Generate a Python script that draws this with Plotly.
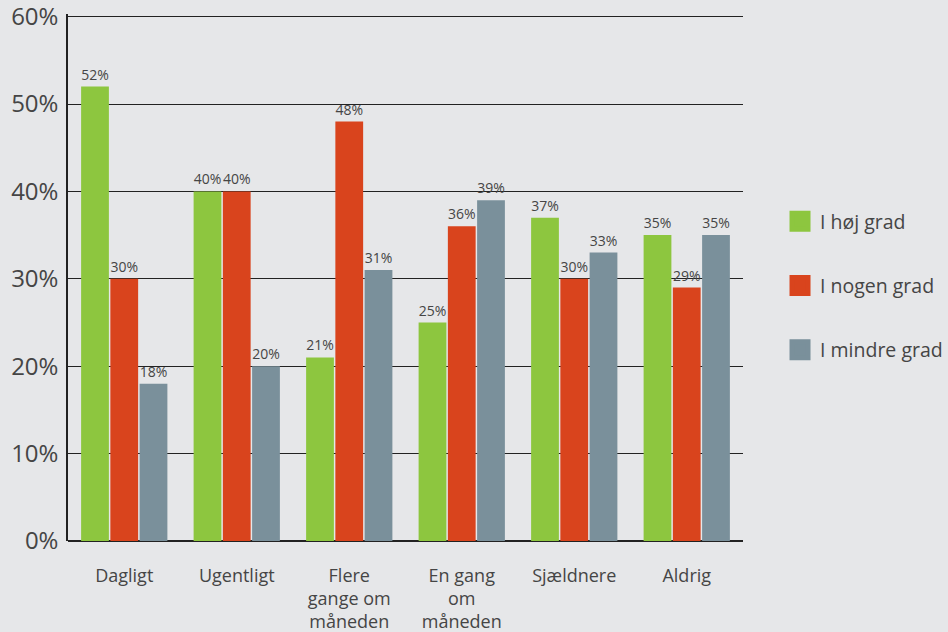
import plotly.graph_objects as go

categories = ["Dagligt", "Ugentligt", "Flere<br>gange om<br>måneden", "En gang<br>om<br>måneden", "Sjældnere", "Aldrig"]
series_names = ["I høj grad", "I nogen grad", "I mindre grad"]
hoj = [52, 40, 21, 25, 37, 35]
nogen = [30, 40, 48, 36, 30, 29]
mindre = [18, 20, 31, 39, 33, 35]
colors = ["#8dc63f", "#d9441d", "#7a909b"]
y_ticks = [0, 10, 20, 30, 40, 50, 60]
y_tick_labels = [f"{v}%" for v in y_ticks]

FONT = "Open Sans"
TXT = "#454545"

fig = go.Figure()
for name, vals, col in zip(series_names, [hoj, nogen, mindre], colors):
    fig.add_trace(go.Bar(
        x=categories, y=vals, name=name, marker=dict(color=col, line=dict(width=0)),
        text=[f"{v}%" for v in vals], textposition="outside",
        textfont=dict(family=FONT, size=14, color=TXT),
        constraintext="none",
        cliponaxis=False, showlegend=False,
    ))
# legend entries with larger squares
for i, (name, col) in enumerate(zip(series_names, colors)):
    fig.add_trace(go.Scatter(
        x=[None], y=[None], mode="markers", name=name, legendgroup=f"g{i}",
        marker=dict(symbol="square", size=16, color=col, line=dict(color=col, width=5)),
    ))

fig.update_layout(
    width=948, height=632,
    paper_bgcolor="#e6e7e9", plot_bgcolor="#e6e7e9",
    margin=dict(l=68, r=205, t=14, b=91),
    barmode="group", bargap=0.22, bargroupgap=0.05,
    font=dict(family=FONT, color=TXT),
    legend=dict(
        xref="container", yref="container",
        x=0.8228, xanchor="left", y=0.5475, yanchor="middle",
        font=dict(family=FONT, size=19.5, color=TXT),
        traceorder="grouped", tracegroupgap=36,
        bgcolor="rgba(0,0,0,0)",
    ),
    uniformtext=dict(mode=False),
)
fig.update_xaxes(
    showgrid=False, showline=False, zeroline=False, automargin=False,
    ticks="outside", ticklen=18, tickcolor="rgba(0,0,0,0)",
    tickfont=dict(family=FONT, size=18, color=TXT),
    ticklabeloverflow="allow",
    layer="below traces",
)
fig.update_yaxes(
    range=[0, 60.3], tickvals=y_ticks, ticktext=y_tick_labels, automargin=False,
    showgrid=True, gridcolor="#222222", gridwidth=1.3,
    zeroline=True, zerolinecolor="#222222", zerolinewidth=1.5,
    showline=True, linecolor="#222222", linewidth=1.5,
    ticks="outside", ticklen=3, tickcolor="rgba(0,0,0,0)",
    tickfont=dict(family=FONT, size=24, color=TXT),
    ticklabeloverflow="allow",
    layer="below traces",
)

fig.write_html(
    "out.html",
    config={"displayModeBar": False},
    post_script="document.body.style.margin='0px';document.body.style.padding='0px';document.body.style.background='#e6e7e9';",
)
